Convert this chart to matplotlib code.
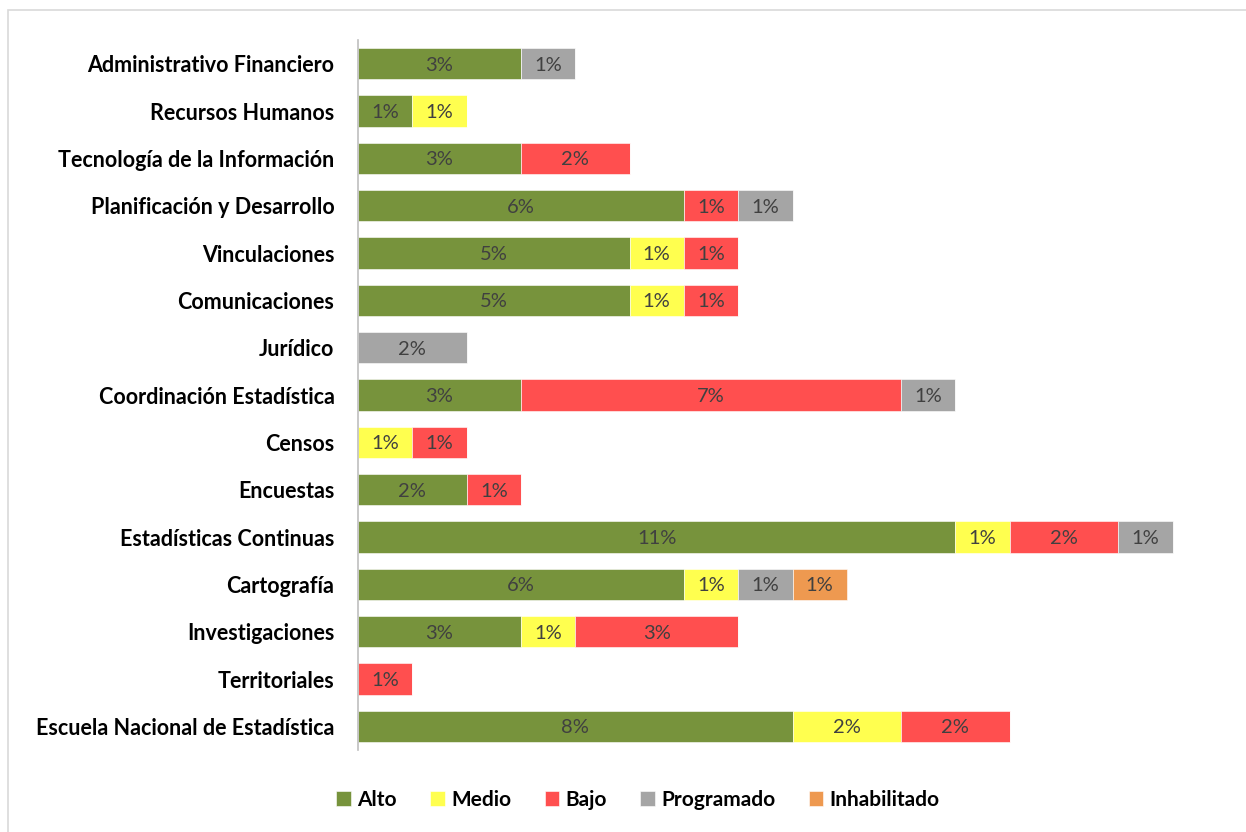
import numpy as np
import matplotlib.pyplot as plt
from matplotlib.patches import Rectangle

plt.rcParams['font.family'] = ['Lato', 'DejaVu Sans']

categories = ["Administrativo Financiero", "Recursos Humanos", "Tecnología de la Información",
              "Planificación y Desarrollo", "Vinculaciones", "Comunicaciones", "Jurídico",
              "Coordinación Estadística", "Censos", "Encuestas", "Estadísticas Continuas",
              "Cartografía", "Investigaciones", "Territoriales", "Escuela Nacional de Estadística"]
series = ["Alto", "Medio", "Bajo", "Programado", "Inhabilitado"]
alto = [3, 1, 3, 6, 5, 5, 0, 3, 0, 2, 11, 6, 3, 0, 8]
medio = [0, 1, 0, 0, 1, 1, 0, 0, 1, 0, 1, 1, 1, 0, 2]
bajo = [0, 0, 2, 1, 1, 1, 0, 7, 1, 1, 2, 0, 3, 1, 2]
programado = [1, 0, 0, 1, 0, 0, 2, 1, 0, 0, 1, 1, 0, 0, 0]
inhabilitado = [0, 0, 0, 0, 0, 0, 0, 0, 0, 0, 0, 1, 0, 0, 0]
colors = ["#77933C", "#FFFF4F", "#FF4F4F", "#A5A5A5", "#EE9950"]

values = [alto, medio, bajo, programado, inhabilitado]

fig = plt.figure(figsize=(12.46, 8.32), dpi=100)
fig.patches.append(Rectangle((8 / 1246, -0.01), 1.1, 1 - 10 / 832 + 0.01, transform=fig.transFigure,
                             fill=False, edgecolor="#D9D9D9", linewidth=1.2))
ax = fig.add_axes([358 / 1246, 1 - 750 / 832, 869 / 1246, 710 / 832])

y = np.arange(len(categories))
left = np.zeros(len(categories))
for name, vals, col in zip(series, values, colors):
    vals = np.array(vals, dtype=float)
    bars = ax.barh(y, vals, left=left, height=0.66, color=col, label=name,
                   edgecolor="white", linewidth=0.4)
    for b, v in zip(bars, vals):
        if v > 0:
            ax.text(b.get_x() + b.get_width() / 2, b.get_y() + b.get_height() / 2,
                    f"{v:.0f}%", ha="center", va="center_baseline", fontsize=14.5, color="#404040")
    left += vals

ax.set_ylim(len(categories) - 0.5, -0.5)
ax.set_xlim(0, 16)
ax.set_yticks(y)
ax.set_yticklabels(categories, fontsize=15.5, fontweight="bold")
ax.tick_params(axis="y", length=0, pad=17)
ax.set_xticks([])
for s in ["top", "right", "bottom"]:
    ax.spines[s].set_visible(False)
ax.spines["left"].set_color("#BFBFBF")
ax.spines["left"].set_linewidth(1.2)

handles, labels = ax.get_legend_handles_labels()
leg = fig.legend(handles, labels, loc="center", bbox_to_anchor=(638 / 1246, 1 - 800 / 832),
                 ncol=5, frameon=False, handlelength=0.7, handleheight=0.7,
                 handletextpad=0.3, columnspacing=1.6,
                 prop={"size": 15, "weight": "bold"})

fig.savefig("out.png", dpi=100)
